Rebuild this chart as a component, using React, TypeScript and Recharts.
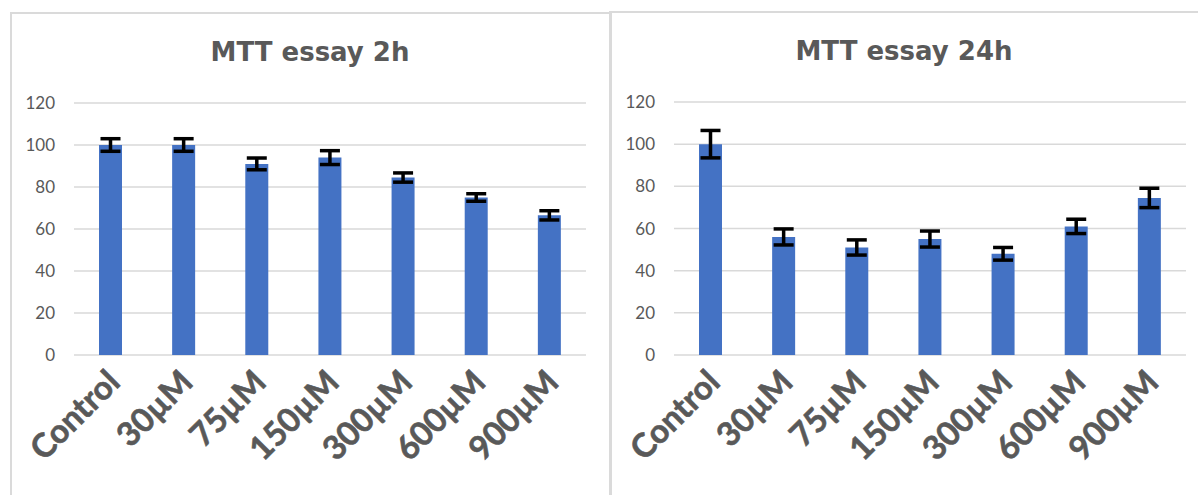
import React from "react";
import { BarChart, Bar, XAxis, YAxis, CartesianGrid, ErrorBar } from "recharts";

const categories = ["Control", "30µM", "75µM", "150µM", "300µM", "600µM", "900µM"];
const viability2h = [100, 100, 91, 94, 84.5, 75, 66.5];
const error2h = [3, 3, 2.8, 3.3, 2.2, 1.8, 2.2];
const viability24h = [100, 56, 51, 55, 48, 61, 74.5];
const error24h = [6.5, 3.8, 3.6, 3.8, 3, 3.4, 4.6];
const yTicks = [0, 20, 40, 60, 80, 100, 120];

const data2h = categories.map((c, i) => ({ name: c, value: viability2h[i], err: error2h[i] }));
const data24h = categories.map((c, i) => ({ name: c, value: viability24h[i], err: error24h[i] }));

const GREY = "#595959";

const XTick = (props: any) => {
  const { x, y, payload } = props;
  return (
    <g transform={`translate(${x + 3},${y + 13})`}>
      <text
        x={0}
        y={0}
        dy="0.35em"
        textAnchor="end"
        transform="rotate(-45)"
        fill={GREY}
        stroke={GREY}
        strokeWidth={0.6}
        fontSize={33}
        fontWeight="bold"
        fontFamily="Lato"
      >
        {payload.value}
      </text>
    </g>
  );
};

function Panel(props: { data: any[]; title: string; left: number; top: number; width: number; height: number; rightMargin: number }) {
  const { data, title, left, top, width, height, rightMargin } = props;
  return (
    <div style={{ position: "absolute", left, top, width, height }}>
      <div
        style={{
          position: "absolute",
          left: 0,
          top: 23,
          width: width,
          textAlign: "center",
          fontFamily: "DejaVu Sans",
          fontWeight: "bold",
          fontSize: 26,
          color: GREY,
          lineHeight: "34px",
        }}
      >
        {title}
      </div>
      <BarChart
        width={width}
        height={height}
        data={data}
        margin={{ top: 91, right: rightMargin, left: 0, bottom: 0 }}
        style={{ position: "absolute", left: 0, top: 0 }}
      >
        <CartesianGrid vertical={false} stroke="#d9d9d9" strokeWidth={1.5} />
        <XAxis dataKey="name" axisLine={false} tickLine={false} interval={0} height={140} tick={<XTick />} />
        <YAxis
          domain={[0, 120]}
          ticks={yTicks}
          width={64}
          axisLine={false}
          tickLine={false}
          tickMargin={13}
          tick={{ fill: GREY, fontSize: 17, fontFamily: "Lato" }}
        />
        <Bar dataKey="value" fill="#4472C4" barSize={23} isAnimationActive={false}>
          <ErrorBar dataKey="err" width={10} strokeWidth={3.5} stroke="#000000" isAnimationActive={false} />
        </Bar>
      </BarChart>
    </div>
  );
}

export default function App() {
  return (
    <div style={{ position: "absolute", left: 0, top: 0, width: 1198, height: 495, overflow: "hidden", background: "#fff" }}>
      <div style={{ position: "absolute", left: 10, top: 12, width: 598, height: 500, border: "2px solid #dadada" }} />
      <div style={{ position: "absolute", left: 609, top: 11, width: 600, height: 500, border: "2px solid #dadada" }} />
      <Panel data={data2h} title="MTT essay 2h" left={10} top={12} width={600} height={483} rightMargin={24} />
      <Panel data={data24h} title="MTT essay 24h" left={610} top={11} width={588} height={484} rightMargin={12} />
    </div>
  );
}
